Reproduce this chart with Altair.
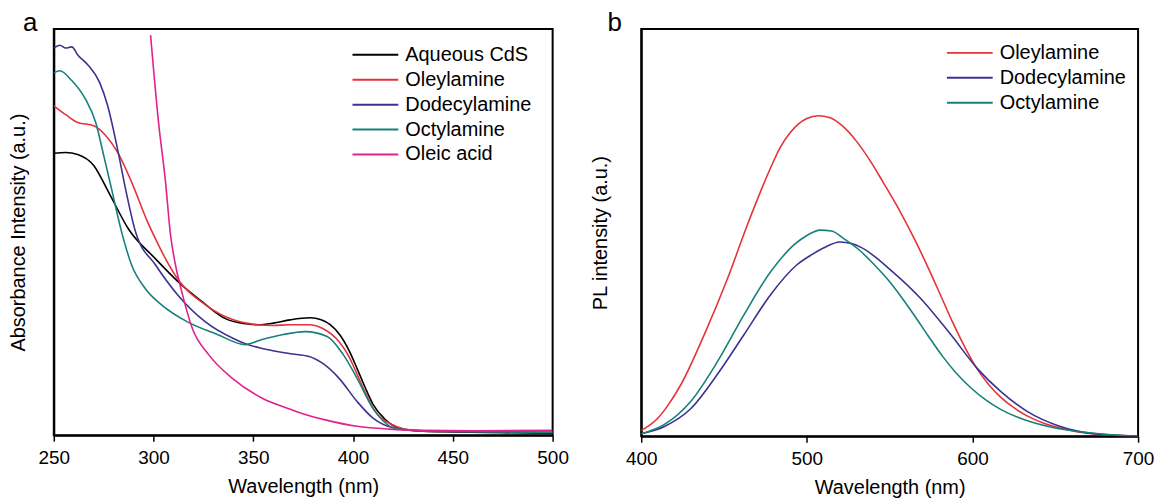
import altair as alt
import pandas as pd

FONT = "Liberation Sans"

# ---------------- Panel a : absorbance ----------------
names_a = ["Aqueous CdS", "Oleylamine", "Dodecylamine", "Octylamine", "Oleic acid"]
colors_a = ["#000000", "#e5333b", "#3c3390", "#178079", "#e2228c"]

wl_cds = [250, 256, 262, 270, 277.5, 287.5, 301, 312.5, 324.5, 336, 345, 352.5, 360, 368.5, 378.5, 384, 388.5, 393.5, 398, 402, 406, 410, 416, 423.5, 435, 450, 475, 500]
ab_cds = [69.4, 69.6, 69.1, 66.4, 59.8, 50.7, 43.4, 37.7, 32.8, 28.7, 27.5, 27.2, 27.6, 28.4, 28.9, 28.4, 27.2, 24.6, 20.8, 16.4, 11.8, 7.6, 3.9, 1.7, 1.0, 0.8, 0.6, 0.5]

wl_oley = [250, 256, 262, 270, 276, 282, 289, 297, 300, 312, 326, 340, 352, 360, 368, 378, 385, 393, 398, 402, 406, 410, 420, 430, 450, 500]
ab_oley = [81.1, 78.9, 77.0, 76.2, 73.8, 69.6, 62.3, 52.5, 49.3, 38.5, 32.1, 28.4, 27.2, 27.0, 27.2, 27.2, 26.2, 23.0, 19.3, 15.0, 10.6, 6.6, 2.5, 1.2, 0.9, 0.7]

wl_dode = [250, 253, 256, 259, 262, 267, 273, 277, 282, 286, 291, 301, 312, 326, 340, 346, 355, 368, 378, 385, 393, 402, 410, 421, 435, 500]
ab_dode = [95.3, 96.0, 95.3, 95.6, 93.6, 91.2, 86.8, 81.1, 70.3, 60.5, 50.0, 41.9, 34.6, 27.9, 23.8, 22.5, 21.3, 20.1, 19.4, 17.6, 14.0, 8.3, 4.2, 1.7, 1.0, 0.7]

wl_octy = [250, 253, 259, 266, 271, 275, 279, 284, 289, 296, 304, 317, 332, 346, 354, 365, 376, 387, 395, 402, 410, 421, 435, 500]
ab_octy = [89.2, 89.7, 87.3, 82.6, 77.0, 68.9, 60.5, 50.0, 41.9, 36.0, 32.1, 27.9, 24.8, 22.3, 23.5, 24.8, 25.5, 24.3, 19.9, 14.0, 6.6, 1.7, 1.0, 0.7]

wl_olei = [298.5, 302.5, 306, 308.5, 311, 314.5, 319.5, 327.5, 339.5, 354.5, 368.5, 376, 385, 402, 418, 435, 460, 500]
ab_olei = [98.5, 77.0, 62.3, 49.3, 41.9, 34.6, 26.2, 19.9, 14.0, 9.1, 6.4, 5.1, 3.9, 2.2, 1.5, 1.2, 1.1, 1.2]

# ---------------- Panel b : photoluminescence ----------------
names_b = ["Oleylamine", "Dodecylamine", "Octylamine"]
colors_b = ["#e5333b", "#3c3390", "#178079"]

wl_pl_oley = [400, 410, 416, 424, 438, 452, 464, 478, 484, 490, 495, 500, 507, 514, 522, 530, 538, 546, 556, 565, 573, 580, 588, 596, 603, 610, 617, 625, 633, 643, 653, 663, 672, 685, 700]
pl_oley = [1.4, 4.4, 7.5, 12.7, 24.9, 38.6, 51.8, 65.8, 71.0, 74.6, 76.7, 78.0, 78.7, 78.2, 76.0, 72.4, 67.8, 62.4, 55.4, 48.4, 41.6, 35.3, 28.0, 21.4, 16.4, 12.6, 9.6, 7.0, 5.0, 3.2, 2.0, 1.1, 0.6, 0.2, 0.0]

wl_pl_dode = [400, 414, 430, 446, 462, 478, 494, 503, 510, 520, 527, 533, 552, 569, 587, 603, 617, 633, 653, 672, 700]
pl_dode = [0.6, 2.4, 6.8, 15.2, 24.9, 34.7, 42.1, 44.6, 46.2, 47.7, 47.3, 46.3, 40.3, 33.7, 24.9, 16.6, 11.0, 6.1, 2.4, 0.7, 0.0]

wl_pl_octy = [400, 414, 430, 446, 462, 478, 492, 500, 508, 515, 522, 532, 540, 549, 557, 564, 573, 582, 590, 599, 608, 617, 627, 636, 650, 663, 680, 700]
pl_octy = [0.6, 2.9, 8.6, 18.3, 29.8, 40.3, 46.9, 49.3, 50.6, 50.4, 48.6, 45.6, 42.4, 38.4, 34.2, 30.2, 24.8, 19.6, 15.6, 11.9, 8.9, 6.6, 4.7, 3.4, 2.0, 1.2, 0.5, 0.0]


def long_table(series):
    rows = []
    for order, (name, xs, ys) in enumerate(series):
        for x, y in zip(xs, ys):
            rows.append({"series": name, "wl": x, "val": y, "ord": order})
    return pd.DataFrame(rows)


df_a = long_table([
    ("Aqueous CdS", wl_cds, ab_cds),
    ("Oleylamine", wl_oley, ab_oley),
    ("Dodecylamine", wl_dode, ab_dode),
    ("Octylamine", wl_octy, ab_octy),
    ("Oleic acid", wl_olei, ab_olei),
])
df_b = long_table([
    ("Oleylamine", wl_pl_oley, pl_oley),
    ("Dodecylamine", wl_pl_dode, pl_dode),
    ("Octylamine", wl_pl_octy, pl_octy),
])


def x_axis(vals):
    return alt.Axis(title="Wavelength (nm)", values=vals, grid=False, ticks=True,
                    tickSize=6, tickWidth=1.5, tickColor="black",
                    domainColor="black", domainWidth=2,
                    labelFont=FONT, labelFontSize=19, labelColor="black", labelPadding=7,
                    labelFlush=False,
                    titleFont=FONT, titleFontSize=20, titleFontWeight="normal",
                    titleColor="black", titlePadding=10)


def y_axis(title, pad):
    return alt.Axis(title=title, ticks=False, labels=False, grid=False,
                    domainColor="black", domainWidth=2,
                    titleFont=FONT, titleFontSize=20, titleFontWeight="normal",
                    titleColor="black", titlePadding=pad)


def legend(lx, ly):
    return alt.Legend(title=None, orient="none", legendX=lx, legendY=ly,
                      symbolType="stroke", symbolSize=2116, symbolStrokeWidth=2,
                      clipHeight=20, rowPadding=5, labelOffset=6, padding=0,
                      labelFont=FONT, labelFontSize=20, labelColor="black")


def panel_title(t, dx):
    return alt.TitleParams(text=t, anchor="start", frame="group", dx=dx, dy=4,
                           fontSize=26, fontWeight="normal", font=FONT, color="black",
                           offset=-3)


chart_a = alt.Chart(df_a).mark_line(strokeWidth=1.6, interpolate="monotone", clip=True).encode(
    x=alt.X("wl:Q", scale=alt.Scale(domain=[250, 500], nice=False, zero=False),
            axis=x_axis([250, 300, 350, 400, 450, 500])),
    y=alt.Y("val:Q", scale=alt.Scale(domain=[0, 100], nice=False),
            axis=y_axis("Absorbance Intensity (a.u.)", 25)),
    color=alt.Color("series:N", scale=alt.Scale(domain=names_a, range=colors_a),
                    legend=legend(299, 16)),
    order="ord:Q",
).properties(width=501, height=408, title=panel_title("a", -31))

chart_b = alt.Chart(df_b).mark_line(strokeWidth=1.6, interpolate="monotone", clip=True).encode(
    x=alt.X("wl:Q", scale=alt.Scale(domain=[400, 700], nice=False, zero=False),
            axis=x_axis([400, 500, 600, 700])),
    y=alt.Y("val:Q", scale=alt.Scale(domain=[0, 100], nice=False),
            axis=y_axis("PL intensity (a.u.)", 31)),
    color=alt.Color("series:N", scale=alt.Scale(domain=names_b, range=colors_b),
                    legend=legend(306, 14)),
    order="ord:Q",
).properties(width=499, height=409, title=panel_title("b", -34))

chart = alt.hconcat(chart_a, chart_b, spacing=20).resolve_scale(color="independent").resolve_legend(
    color="independent"
).properties(
    padding={"left": 0, "top": 0, "right": 0, "bottom": 0}, background="white"
).configure_view(stroke="black", strokeWidth=2)

chart.save("out.html", embed_options={"renderer": "svg", "actions": False})
